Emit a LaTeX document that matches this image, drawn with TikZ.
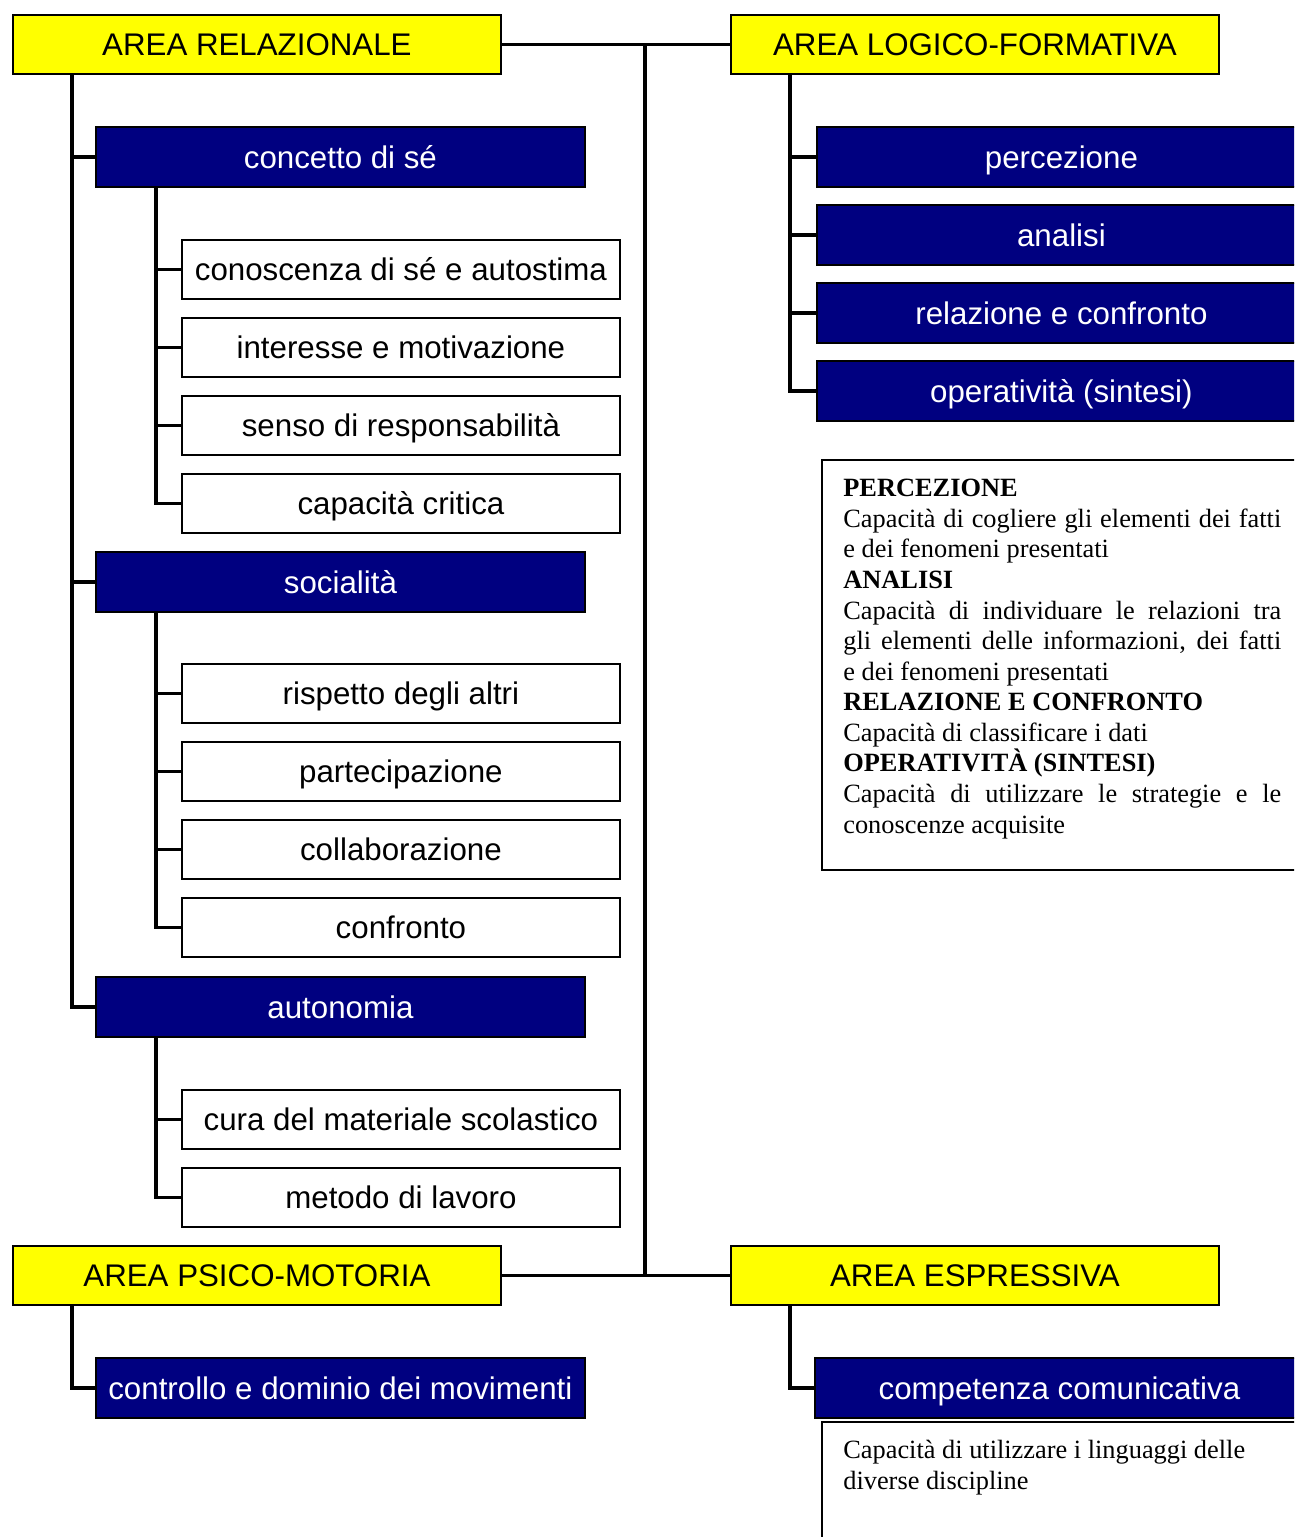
\documentclass[tikz,border=0pt]{standalone}
\usepackage{fontspec}
\setmainfont{Liberation Serif}
\newfontfamily\boxfont{Liberation Sans}
\usetikzlibrary{calc}
\definecolor{areayellow}{rgb}{1, 1, 0}
\definecolor{navy}{rgb}{0, 0, 0.5}
\newcommand{\fullline}[1]{\makebox[8.76cm][s]{#1}}

\tikzset{
  box/.style={draw, line width=1.1pt, anchor=north west, inner sep=0pt,
    text height=12.7pt, text depth=0pt,
    font=\boxfont\fontsize{17.8}{21}\selectfont},
  area/.style={box, fill=areayellow, minimum width=9.76cm, minimum height=1.18cm},
  topic/.style={box, fill=navy, text=white, minimum width=9.78cm, minimum height=1.2cm},
  item/.style={box, fill=white, minimum width=8.76cm, minimum height=1.18cm},
  link/.style={line width=2pt},
  frame/.style={line width=0.8pt},
  note/.style={anchor=north west, inner sep=0pt, align=left,
    font=\fontsize{15}{17.4}\selectfont}
}

\begin{document}
\begin{tikzpicture}[x=0.02cm, y=-0.02cm]
\clip (0, 0) rectangle (1294, 1537);
\node[area] (rel) at (12, 14) {AREA RELAZIONALE};
\node[area] (logico) at (730, 14) {AREA LOGICO-FORMATIVA};
\node[area] (psico) at (12, 1245) {AREA PSICO-MOTORIA};
\node[area] (espr) at (730, 1245) {AREA ESPRESSIVA};
\coordinate (hub) at (645, 0);
\draw[link] (rel.east) -- (logico.west);
\draw[link] (psico.east) -- (espr.west);
\draw[link] (rel.east -| hub) -- (psico.east -| hub);

\node[topic] (sestesso) at (95, 126) {concetto di sé};
\node[topic] (social) at (95, 551) {socialità};
\node[topic] (autonomia) at (95, 976) {autonomia};
\draw[link] ($(rel.south west)+(60, 0)$) |- (sestesso.west);
\draw[link] ($(rel.south west)+(60, 0)$) |- (social.west);
\draw[link] ($(rel.south west)+(60, 0)$) |- (autonomia.west);

\node[item] (stima) at (181, 239) {conoscenza di sé e autostima};
\node[item] (motiv) at (181, 317) {interesse e motivazione};
\node[item] (resp) at (181, 395) {senso di responsabilità};
\node[item] (critica) at (181, 473) {capacità critica};
\draw[link] ($(sestesso.south west)+(61, 0)$) |- (stima.west);
\draw[link] ($(sestesso.south west)+(61, 0)$) |- (motiv.west);
\draw[link] ($(sestesso.south west)+(61, 0)$) |- (resp.west);
\draw[link] ($(sestesso.south west)+(61, 0)$) |- (critica.west);

\node[item] (rispetto) at (181, 663) {rispetto degli altri};
\node[item] (partec) at (181, 741) {partecipazione};
\node[item] (collab) at (181, 819) {collaborazione};
\node[item] (confr) at (181, 897) {confronto};
\draw[link] ($(social.south west)+(61, 0)$) |- (rispetto.west);
\draw[link] ($(social.south west)+(61, 0)$) |- (partec.west);
\draw[link] ($(social.south west)+(61, 0)$) |- (collab.west);
\draw[link] ($(social.south west)+(61, 0)$) |- (confr.west);

\node[item] (materiale) at (181, 1089) {cura del materiale scolastico};
\node[item] (metodo) at (181, 1167) {metodo di lavoro};
\draw[link] ($(autonomia.south west)+(61, 0)$) |- (materiale.west);
\draw[link] ($(autonomia.south west)+(61, 0)$) |- (metodo.west);

\node[topic] (perc) at (816, 126) {percezione};
\node[topic] (anal) at (816, 204) {analisi};
\node[topic] (relconf) at (816, 282) {relazione e confronto};
\node[topic] (oper) at (816, 360) {operatività (sintesi)};
\draw[link] ($(logico.south west)+(60, 0)$) |- (perc.west);
\draw[link] ($(logico.south west)+(60, 0)$) |- (anal.west);
\draw[link] ($(logico.south west)+(60, 0)$) |- (relconf.west);
\draw[link] ($(logico.south west)+(60, 0)$) |- (oper.west);

\draw[frame] (822, 460) rectangle (1310, 870);
\node[note] (defs) at (843, 479) {\textbf{PERCEZIONE}\\
\fullline{Capacità di cogliere gli elementi dei fatti}\\
e dei fenomeni presentati\\
\textbf{ANALISI}\\
\fullline{Capacità di individuare le relazioni tra}\\
\fullline{gli elementi delle informazioni, dei fatti}\\
e dei fenomeni presentati\\
\textbf{RELAZIONE E CONFRONTO}\\
Capacità di classificare i dati\\
\textbf{OPERATIVITÀ (SINTESI)}\\
\fullline{Capacità di utilizzare le strategie e le}\\
conoscenze acquisite};

\node[topic] (movim) at (95, 1357) {controllo e dominio dei movimenti};
\draw[link] ($(psico.south west)+(60, 0)$) |- (movim.west);

\node[topic] (comunic) at (814, 1357) {competenza comunicativa};
\draw[link] ($(espr.south west)+(60, 0)$) |- (comunic.west);
\draw[frame] (822, 1422) rectangle (1310, 1560);
\node[note] (lingua) at (843, 1440) {Capacità di utilizzare i linguaggi delle\\
diverse discipline};
\end{tikzpicture}
\end{document}
